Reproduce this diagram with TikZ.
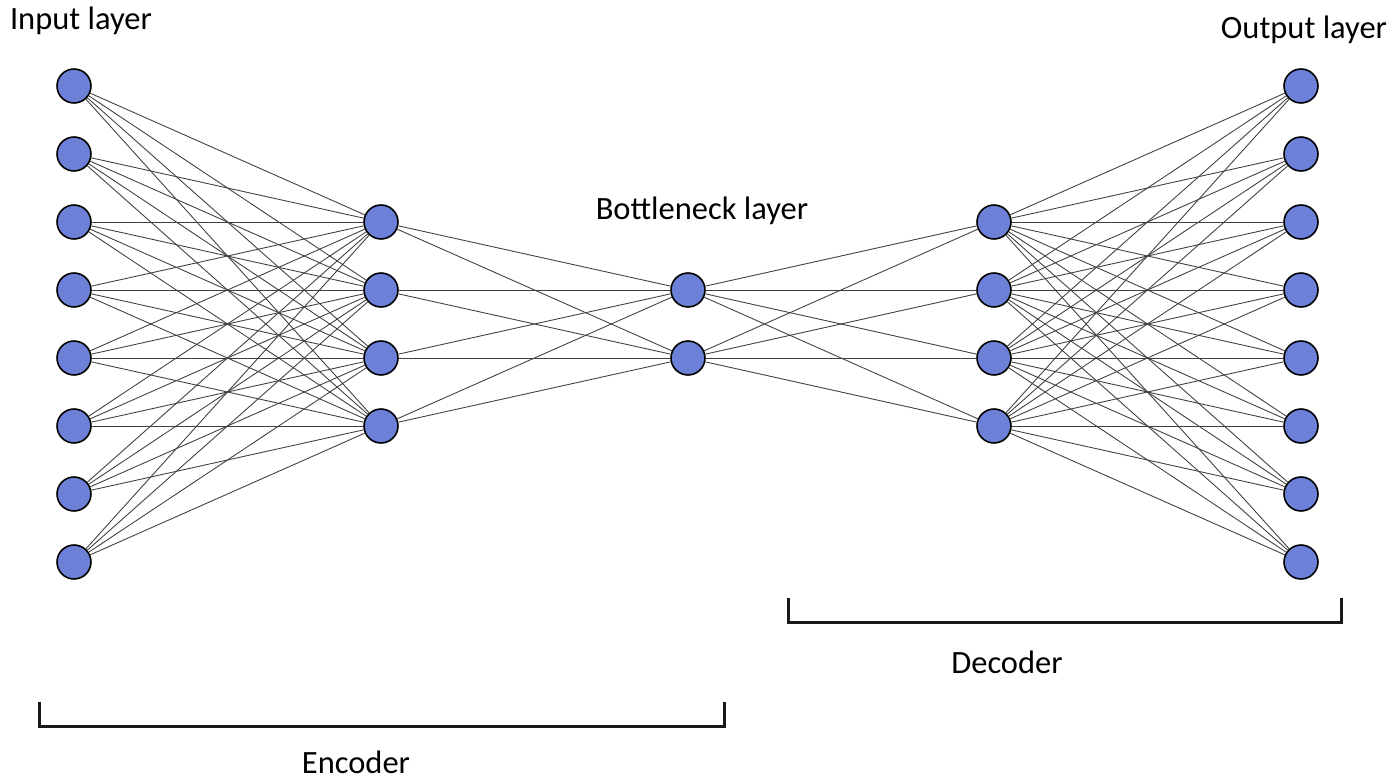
\documentclass[tikz,border=0pt]{standalone}
\usepackage{fontspec}
\setmainfont{Carlito}
\usepackage{tikz}

\definecolor{neuronblue}{RGB}{108,128,216}

\begin{document}
\begin{tikzpicture}[x=0.02cm, y=-0.02cm,
    neuron/.style={circle, draw=black, line width=0.9pt, fill=neuronblue,
      minimum size=0.68cm, inner sep=0pt},
    link/.style={draw=black!75, line width=0.5pt},
    brace/.style={draw=black!90, line width=1.7pt},
    label/.style={font=\fontsize{18.5}{22}\selectfont}]
    \newcommand\kStep{68}
    \useasboundingbox (0, 0) rectangle (1400, 784);
    \foreach \i in {1,...,8} {
      \node[neuron] (in\i) at (74, {86 + \kStep * (\i - 1)}) {};
      \node[neuron] (out\i) at (1301, {86 + \kStep * (\i - 1)}) {};
    }
    \foreach \i in {1,...,4} {
      \node[neuron] (h\i) at (381, {222 + \kStep * (\i - 1)}) {};
      \node[neuron] (d\i) at (994, {222 + \kStep * (\i - 1)}) {};
    }
    \foreach \i in {1,2} {
      \node[neuron] (b\i) at (688, {290 + \kStep * (\i - 1)}) {};
    }
    \foreach \i in {1,...,8} {
      \foreach \j in {1,...,4} {
        \draw[link] (in\i) -- (h\j);
        \draw[link] (d\j) -- (out\i);
      }
    }
    \foreach \j in {1,...,4} {
      \foreach \k in {1,2} {
        \draw[link] (h\j) -- (b\k);
        \draw[link] (b\k) -- (d\j);
      }
    }
    \node[label] (inlabel) at (81, 21) {Input layer};
    \node[label] (outlabel) at (1304, 30) {Output layer};
    \node[label] (bnlabel) at (702, 211) {Bottleneck layer};
    \coordinate (encA) at (39.5, 702);
    \coordinate (encB) at (724, 702);
    \coordinate (decA) at (788, 598);
    \coordinate (decB) at (1341, 598);
    \draw[brace] (encA) -- ++(0, 24.5) -| (encB);
    \draw[brace] (decA) -- ++(0, 24.5) -| (decB);
    \node[label] (enclabel) at (356, 762) {Encoder};
    \node[label] (declabel) at (1007, 662) {Decoder};
  \end{tikzpicture}
\end{document}
